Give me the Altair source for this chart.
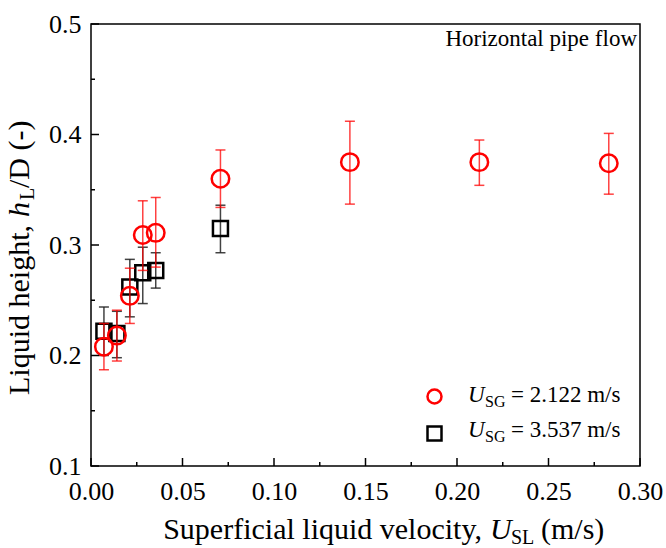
import altair as alt
import pandas as pd

# ---- data ----
x_vals = [0.00707, 0.01415, 0.02122, 0.02829, 0.03537, 0.07074, 0.14147, 0.21221, 0.28294]

red_y  = [0.208, 0.218, 0.254, 0.309, 0.311, 0.360, 0.375, 0.375, 0.374]
red_hi = [0.229, 0.241, 0.279, 0.340, 0.343, 0.386, 0.412, 0.395, 0.401]
red_lo = [0.187, 0.195, 0.229, 0.277, 0.280, 0.334, 0.337, 0.354, 0.346]

blk_x  = x_vals[:6]
blk_y  = [0.222, 0.220, 0.262, 0.275, 0.277, 0.315]
blk_hi = [0.244, 0.240, 0.287, 0.298, 0.293, 0.336]
blk_lo = [0.200, 0.198, 0.235, 0.247, 0.261, 0.293]

series_names = ["USG = 2.122 m/s", "USG = 3.537 m/s"]

x_major = [0.0, 0.05, 0.10, 0.15, 0.20, 0.25, 0.30]
x_minor = [0.025, 0.075, 0.125, 0.175, 0.225, 0.275]
y_major = [0.1, 0.2, 0.3, 0.4, 0.5]
y_minor = [0.15, 0.25, 0.35, 0.45]

# ---- layout ----
W, H = 549, 442
PAD = {"left": 91, "top": 24, "right": 26, "bottom": 82}
FONT = "Liberation Serif"
RED = "#ff0000"

xs = alt.Scale(domain=[0, 0.3], nice=False, zero=False)
ys = alt.Scale(domain=[0.1, 0.5], nice=False, zero=False)
xaxis = alt.Axis(title=None, values=x_major, format=".2f", labelPadding=12, labelFlush=False, labelOverlap=False)
yaxis = alt.Axis(title=None, values=y_major, format=".1f", labelPadding=10, labelFlush=False, labelOverlap=False)


def X(f):
    return alt.X(f, scale=xs, axis=xaxis)


def Y(f):
    return alt.Y(f, scale=ys, axis=yaxis)


red_df = pd.DataFrame({"x": x_vals, "y": red_y, "lo": red_lo, "hi": red_hi, "series": series_names[0]})
blk_df = pd.DataFrame({"x": blk_x, "y": blk_y, "lo": blk_lo, "hi": blk_hi, "series": series_names[1]})

leg = alt.Legend(orient="none", legendX=332, legendY=361, title=None, labelExpr="''",
                 symbolSize=196, symbolStrokeWidth=2.5, padding=0, rowPadding=12,
                 labelFontSize=23, direction="vertical")
color = alt.Color("series:N", scale=alt.Scale(domain=series_names, range=[RED, "#000000"]), legend=leg)
shape = alt.Shape("series:N", scale=alt.Scale(domain=series_names, range=["circle", "square"]), legend=leg)


def errbars(df, col, op):
    base = alt.Chart(df)
    rule = base.mark_rule(color=col, opacity=op, strokeWidth=1.5).encode(x=X("x:Q"), y=Y("lo:Q"), y2="hi:Q")
    lo = base.mark_tick(color=col, opacity=op, orient="horizontal", thickness=1.5, size=10).encode(x=X("x:Q"), y=Y("lo:Q"))
    hi = base.mark_tick(color=col, opacity=op, orient="horizontal", thickness=1.5, size=10).encode(x=X("x:Q"), y=Y("hi:Q"))
    return [rule, lo, hi]


def points(df, size):
    return alt.Chart(df).mark_point(filled=False, strokeWidth=2.5, size=size, opacity=1).encode(
        x=X("x:Q"), y=Y("y:Q"), color=color, shape=shape)


def ticks_x(vals, length):
    return alt.Chart(pd.DataFrame({"v": vals})).mark_rule(color="black", strokeWidth=1.5).encode(
        x=X("v:Q"), y=alt.value(H), y2=alt.value(H - length))


def ticks_y(vals, length):
    return alt.Chart(pd.DataFrame({"v": vals})).mark_rule(color="black", strokeWidth=1.5).encode(
        y=Y("v:Q"), x=alt.value(0), x2=alt.value(length))


def txt(s, x, y, size, italic=False, align="left", angle=0):
    kw = dict(text=s, font=FONT, fontSize=size, align=align, baseline="alphabetic", color="black")
    if italic:
        kw["fontStyle"] = "italic"
    if angle:
        kw["angle"] = angle
    return alt.Chart(pd.DataFrame({"a": [0]})).mark_text(**kw).encode(x=alt.value(x), y=alt.value(y))


layers = []
layers += errbars(blk_df, "#222222", 0.85)
layers.append(points(blk_df, 225))
layers += errbars(red_df, RED, 0.75)
layers.append(points(red_df, 306))
layers += [ticks_x(x_major, 8), ticks_x(x_minor, 4), ticks_y(y_major, 8), ticks_y(y_minor, 4)]

# annotation
layers.append(txt("Horizontal pipe flow", 546, 22, 23, align="right"))

# legend labels (with subscripts)
for i, val in enumerate(["= 2.122 m/s", "= 3.537 m/s"]):
    by = 378 + 35 * i
    layers.append(txt("U", 377, by, 23, italic=True))
    layers.append(txt("SG", 394, by + 5, 16))
    layers.append(txt(val, 420, by, 23))

# x-axis title
TS, SS = 30, 20
layers.append(txt("Superficial liquid velocity,", 391, 515, TS, align="right"))
layers.append(txt("U", 399, 515, TS, italic=True))
layers.append(txt("SL", 420, 520, SS))
layers.append(txt("(m/s)", 450, 515, TS))

# y-axis title (rotated)
layers.append(txt("Liquid height,", -62, 201, TS, align="right", angle=270))
layers.append(txt("h", -62, 193, TS, italic=True, angle=270))
layers.append(txt("L", -57, 176, SS, angle=270))
layers.append(txt("/D (-)", -62, 164, TS, angle=270))

chart = alt.layer(*layers).properties(
    width=W, height=H, padding=PAD, autosize=alt.AutoSizeParams(type="none"), background="white"
).configure_view(stroke="black", strokeWidth=1.5).configure_axis(
    ticks=False, domain=False, grid=False, labelFont=FONT, labelFontSize=26, labelColor="black"
)

chart.save("out.html", embed_options={"renderer": "svg", "actions": False})
